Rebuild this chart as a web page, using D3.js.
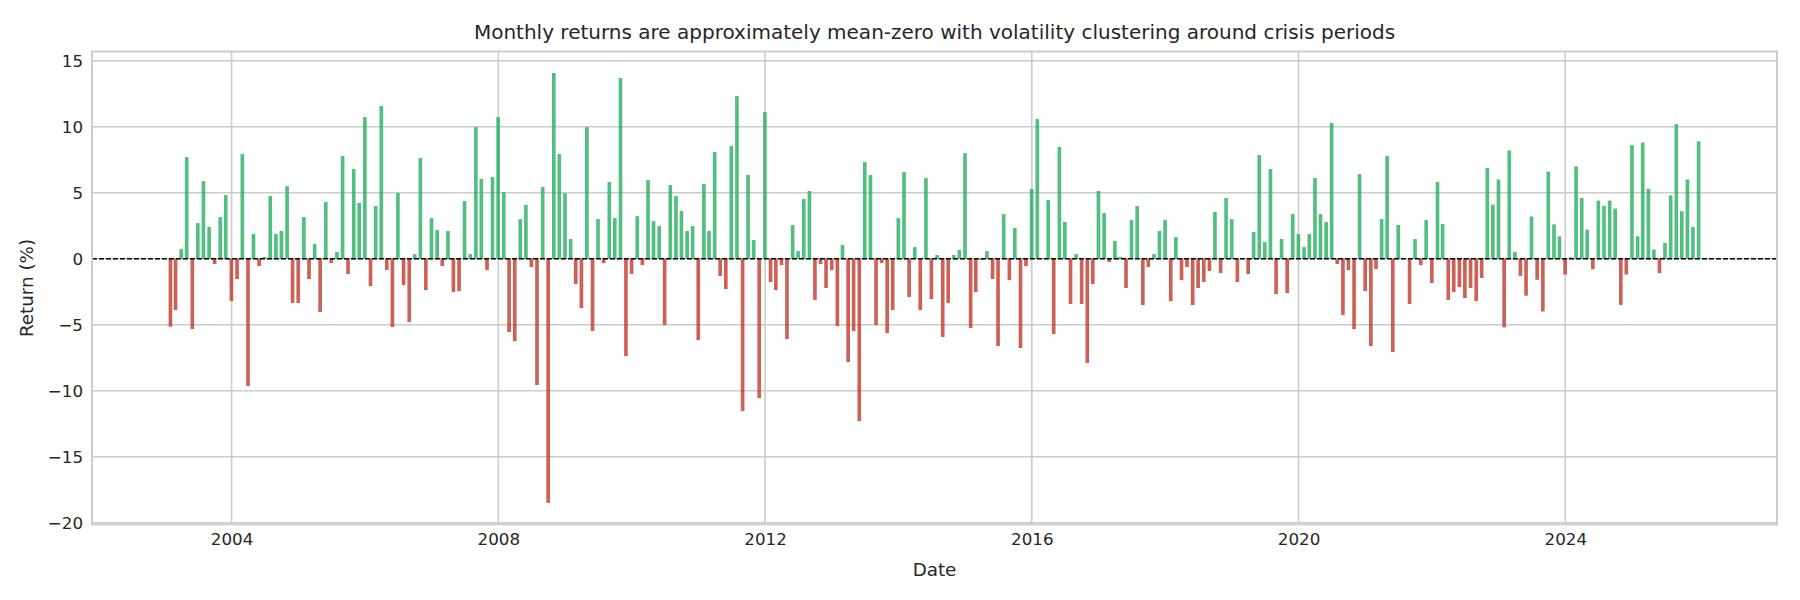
<!DOCTYPE html>
<html>
<head>
<meta charset="utf-8">
<script src="https://cdn.jsdelivr.net/npm/d3@7"></script>
<style>
  body { margin: 0; background: #fff; }
  svg text { font-family: "DejaVu Sans", sans-serif; fill: #262626; }
</style>
</head>
<body>
<div id="chart"></div>
<script>
// monthly returns (%), one array per year, Jan..Dec
const r2003 = [-5.15, -3.89, 0.73, 7.70, -5.33, 2.70, 5.88, 2.40, -0.40, 3.16, 4.82, -3.21];
const r2004 = [-1.54, 7.93, -9.65, 1.87, -0.56, 0.13, 4.75, 1.87, 2.10, 5.50, -3.36, -3.36];
const r2005 = [3.16, -1.54, 1.11, -4.04, 4.29, -0.33, 0.51, 7.78, -1.16, 6.79, 4.22, 10.73];
const r2006 = [-2.07, 3.99, 11.57, -0.86, -5.18, 4.97, -2.00, -4.80, 0.35, 7.63, -2.37, 3.08];
const r2007 = [2.17, -0.56, 2.10, -2.53, -2.45, 4.37, 0.35, 9.97, 6.04, -0.86, 6.19, 10.73];
const r2008 = [5.05, -5.56, -6.24, 3.00, 4.07, -0.63, -9.57, 5.43, -18.5, 14.07, 7.93, 4.97];
const r2009 = [1.49, -1.92, -3.74, 9.97, -5.48, 3.00, -0.33, 5.81, 3.08, 13.69, -7.37, -1.16];
const r2010 = [3.23, -0.48, 5.96, 2.85, 2.47, -5.03, 5.58, 4.75, 3.61, 2.10, 2.47, -6.16];
const r2011 = [5.66, 2.10, 8.08, -1.31, -2.30, 8.54, 12.32, -11.54, 6.34, 1.41, -10.56, 11.11];
const r2012 = [-1.77, -2.37, -0.48, -6.09, 2.55, 0.58, 4.52, 5.13, -3.13, -0.40, -2.22, -0.86];
const r2013 = [-5.10, 1.04, -7.83, -5.48, -12.30, 7.32, 6.34, -5.03, -0.33, -5.63, -3.89, 3.08];
const r2014 = [6.57, -2.90, 0.88, -3.89, 6.11, -3.06, 0.28, -5.93, -3.36, 0.28, 0.66, 8.00];
const r2015 = [-5.25, -2.53, -0.10, 0.58, -1.54, -6.62, 3.38, -1.62, 2.32, -6.77, -0.56, 5.28];
const r2016 = [10.58, 0.05, 4.44, -5.71, 8.46, 2.78, -3.43, 0.35, -3.43, -7.90, -1.92, 5.13];
const r2017 = [3.46, -0.25, 1.34, 0.13, -2.22, 2.93, 3.99, -3.51, -0.63, 0.35, 2.10, 2.93];
const r2018 = [-3.21, 1.64, -1.62, -0.63, -3.51, -2.22, -1.77, -0.93, 3.54, -1.09, 4.60, 3.00];
const r2019 = [-1.77, 0.05, -1.16, 2.02, 7.85, 1.26, 6.79, -2.68, 1.49, -2.60, 3.38, 1.87];
const r2020 = [0.88, 1.87, 6.11, 3.38, 2.78, 10.28, -0.40, -4.27, -0.86, -5.33, 6.41, -2.45];
const r2021 = [-6.62, -0.78, 3.00, 7.78, -7.07, 2.55, 0.05, -3.43, 1.49, -0.48, 2.93, -1.84];
const r2022 = [5.81, 2.63, -3.13, -2.53, -2.15, -2.98, -2.22, -3.21, -1.46, 6.87, 4.10, 6.00];
const r2023 = [-5.20, 8.20, 0.50, -1.30, -2.80, 3.20, -1.60, -4.00, 6.60, 2.60, 1.70, -1.20];
const r2024 = [0.10, 7.00, 4.60, 2.20, -0.80, 4.40, 4.00, 4.40, 3.80, -3.50, -1.20, 8.60];
const r2025 = [1.70, 8.80, 5.30, 0.70, -1.10, 1.20, 4.80, 10.20, 3.60, 6.00, 2.40, 8.90];

const years = [2003, 2004, 2005, 2006, 2007, 2008, 2009, 2010, 2011, 2012, 2013, 2014,
               2015, 2016, 2017, 2018, 2019, 2020, 2021, 2022, 2023, 2024, 2025];
const yearly = [r2003, r2004, r2005, r2006, r2007, r2008, r2009, r2010, r2011, r2012, r2013, r2014,
                r2015, r2016, r2017, r2018, r2019, r2020, r2021, r2022, r2023, r2024, r2025];
const xTickYears = [2004, 2008, 2012, 2016, 2020, 2024];
const yTicks = [-20, -15, -10, -5, 0, 5, 10, 15];

// bars sit on month-end dates
let data = [];
years.forEach((y, i) => {
    yearly[i].forEach((v, m) => {
        data.push({ date: new Date(Date.UTC(y, m + 1, 0)), value: v });
    });
});

const W = 1800, H = 600;
const plot = { left: 92, right: 1777, top: 51.5, bottom: 524.4 };
const DAY = 86400000;
const barDays = 20;

let lo = +data[0].date - barDays / 2 * DAY;
let hi = +data[data.length - 1].date + barDays / 2 * DAY;
let pad = (hi - lo) * 0.05;
const x = d3.scaleUtc()
    .domain([new Date(lo - pad), new Date(hi + pad)])
    .range([plot.left, plot.right]);

let vmin = d3.min(data, d => d.value), vmax = d3.max(data, d => d.value);
let vpad = (vmax - vmin) * 0.05;
const y = d3.scaleLinear()
    .domain([vmin - vpad, vmax + vpad])
    .range([plot.bottom, plot.top]);

const svg = d3.select("#chart").append("svg")
    .attr("width", W)
    .attr("height", H);

svg.append("rect").attr("width", W).attr("height", H).attr("fill", "#fff");

// grid
svg.append("g")
    .selectAll("line")
    .data(yTicks)
    .enter()
    .append("line")
    .attr("x1", plot.left).attr("x2", plot.right)
    .attr("y1", d => y(d)).attr("y2", d => y(d))
    .attr("stroke", "#cccccc")
    .attr("stroke-width", 1.6);

svg.append("g")
    .selectAll("line")
    .data(xTickYears)
    .enter()
    .append("line")
    .attr("x1", d => x(new Date(Date.UTC(d, 0, 1))))
    .attr("x2", d => x(new Date(Date.UTC(d, 0, 1))))
    .attr("y1", plot.top).attr("y2", plot.bottom)
    .attr("stroke", "#cccccc")
    .attr("stroke-width", 1.6);

// bars
let bw = x(new Date(Date.UTC(2010, 0, 1 + barDays))) - x(new Date(Date.UTC(2010, 0, 1)));
svg.append("g")
    .selectAll("rect")
    .data(data)
    .enter()
    .append("rect")
    .attr("x", d => x(d.date) - bw / 2)
    .attr("width", bw)
    .attr("y", d => y(Math.max(0, d.value)))
    .attr("height", d => Math.abs(y(d.value) - y(0)))
    .attr("fill", d => d.value >= 0 ? "#27ae60" : "#c0392b")
    .attr("fill-opacity", 0.8);

// zero line
svg.append("line")
    .attr("x1", plot.left).attr("x2", plot.right)
    .attr("y1", y(0)).attr("y2", y(0))
    .attr("stroke", "#000")
    .attr("stroke-width", 1.35)
    .attr("stroke-dasharray", "4.9,2.1");

// frame
svg.append("rect")
    .attr("x", plot.left).attr("y", plot.top)
    .attr("width", plot.right - plot.left)
    .attr("height", plot.bottom - plot.top)
    .attr("fill", "none")
    .attr("stroke", "#cccccc")
    .attr("stroke-width", 2);

// axes
const xAxis = d3.axisBottom(x)
    .tickValues(xTickYears.map(d => new Date(Date.UTC(d, 0, 1))))
    .tickFormat(d3.utcFormat("%Y"))
    .tickSize(0)
    .tickPadding(9);
svg.append("g")
    .attr("transform", `translate(0,${plot.bottom})`)
    .call(xAxis)
    .call(g => g.select(".domain").remove())
    .selectAll("text")
    .attr("font-size", 16.7)
    .attr("font-family", "DejaVu Sans, sans-serif")
    .attr("fill", "#262626");

const yAxis = d3.axisLeft(y)
    .tickValues(yTicks)
    .tickFormat(d => d < 0 ? "\u2212" + Math.abs(d) : d)
    .tickSize(0)
    .tickPadding(9);
svg.append("g")
    .attr("transform", `translate(${plot.left},0)`)
    .call(yAxis)
    .call(g => g.select(".domain").remove())
    .selectAll("text")
    .attr("font-size", 16.7)
    .attr("font-family", "DejaVu Sans, sans-serif")
    .attr("fill", "#262626");

// labels
svg.append("text")
    .attr("x", (plot.left + plot.right) / 2)
    .attr("y", 39)
    .attr("text-anchor", "middle")
    .attr("font-size", 20)
    .text("Monthly returns are approximately mean-zero with volatility clustering around crisis periods");

svg.append("text")
    .attr("x", (plot.left + plot.right) / 2)
    .attr("y", 576)
    .attr("text-anchor", "middle")
    .attr("font-size", 18.3)
    .text("Date");

svg.append("text")
    .attr("transform", `translate(33,${(plot.top + plot.bottom) / 2}) rotate(-90)`)
    .attr("text-anchor", "middle")
    .attr("font-size", 18.3)
    .text("Return (%)");
</script>
</body>
</html>
